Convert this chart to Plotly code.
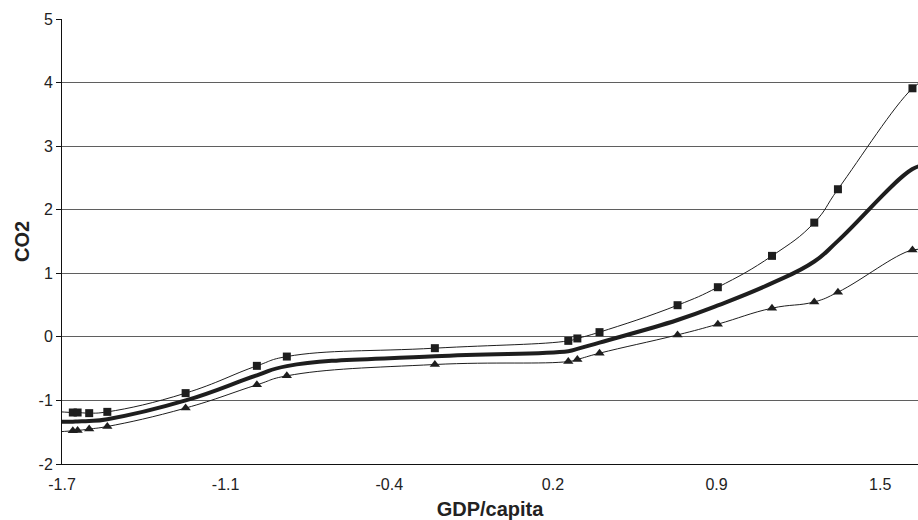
import plotly.graph_objects as go

# Data (GDP/capita vs CO2)
gdp = [-1.74, -1.657, -1.638, -1.592, -1.520, -1.209, -0.926, -0.807, -0.219,
       0.311, 0.347, 0.435, 0.745, 0.905, 1.120, 1.288, 1.382, 1.678, 1.72]
co2_upper = [-1.17, -1.19, -1.19, -1.20, -1.18, -0.885, -0.456, -0.31, -0.178,
             -0.063, -0.025, 0.074, 0.498, 0.781, 1.274, 1.797, 2.322, 3.91, 4.02]
co2_lower = [-1.50, -1.478, -1.473, -1.45, -1.41, -1.12, -0.755, -0.613, -0.435,
             -0.388, -0.355, -0.257, 0.031, 0.20, 0.451, 0.55, 0.703, 1.368, 1.36]
co2_mid = [-1.335, -1.335, -1.33, -1.325, -1.295, -1.0, -0.605, -0.46, -0.305,
           -0.225, -0.19, -0.09, 0.265, 0.495, 0.845, 1.185, 1.51, 2.64, 2.69]

x_tick_vals = [-1.7, -1.05, -0.4, 0.25, 0.9, 1.55]
x_tick_text = ["-1.7", "-1.1", "-0.4", "0.2", "0.9", "1.5"]
y_tick_vals = [-2, -1, 0, 1, 2, 3, 4, 5]
y_tick_text = ["-2", "-1", "0", "1", "2", "3", "4", "5"]

ink = "#1e1e1e"
fig = go.Figure()
fig.add_trace(go.Scatter(x=gdp, y=co2_upper, mode="lines+markers",
                         line=dict(color=ink, width=1, shape="spline", smoothing=1.3),
                         marker=dict(symbol="square", size=8, color=ink),
                         showlegend=False))
fig.add_trace(go.Scatter(x=gdp, y=co2_mid, mode="lines",
                         line=dict(color=ink, width=4, shape="spline", smoothing=1.3),
                         showlegend=False))
fig.add_trace(go.Scatter(x=gdp, y=co2_lower, mode="lines+markers",
                         line=dict(color=ink, width=1, shape="spline", smoothing=1.3),
                         marker=dict(symbol="triangle-up", size=9, color=ink),
                         showlegend=False))

font_family = "Liberation Sans, Arial, sans-serif"
fig.update_layout(
    width=918, height=520,
    margin=dict(l=62, r=0, t=19, b=56),
    paper_bgcolor="white", plot_bgcolor="white",
    font=dict(family=font_family, color="#222", size=16),
    xaxis=dict(range=[-1.7, 1.7], tickvals=x_tick_vals, ticktext=x_tick_text,
               showgrid=False, zeroline=False, showline=True, linecolor="#111",
               linewidth=1, ticks="outside", ticklen=6, tickcolor="rgba(0,0,0,0)",
               tickfont=dict(size=16),
               title=dict(text="<b>GDP/capita</b>", font=dict(size=20), standoff=10)),
    yaxis=dict(range=[-2, 5], tickvals=y_tick_vals, ticktext=y_tick_text,
               showgrid=True, gridcolor="#5f5f5f",
               gridwidth=1, zeroline=False, showline=True, linecolor="#111", linewidth=1,
               ticks="outside", ticklen=5, tickcolor="#111", tickfont=dict(size=16),
               title=dict(text="<b>CO2</b>", font=dict(size=20), standoff=3)),
)

fig.write_html("out.html")
